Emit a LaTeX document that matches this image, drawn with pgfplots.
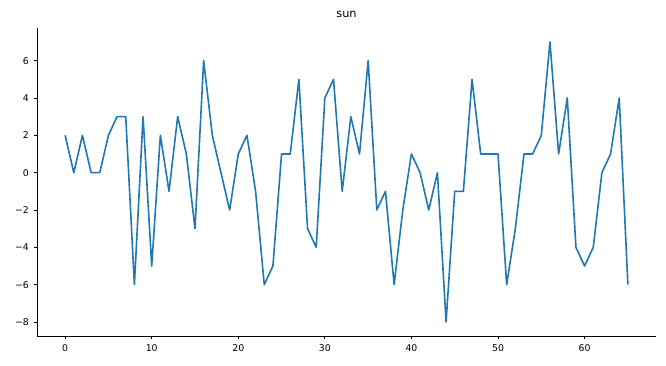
\documentclass[border=0pt]{standalone}
\usepackage{fontspec}
\setmainfont{DejaVu Sans}
\usepackage{pgfplots}
\pgfplotsset{compat=1.18}
\definecolor{mplblue}{HTML}{1F77B4}
\begin{document}
\begin{tikzpicture}[x=1pt,y=1pt]
\path[use as bounding box] (0,0) rectangle (499.5,274.5);
\begin{axis}[
  at={(27.75pt,22.5pt)}, anchor=south west,
  scale only axis, width=464.25pt, height=231pt,
  xmin=-3.25, xmax=68.25, ymin=-8.75, ymax=7.75,
  axis x line*=bottom, axis y line*=left,
  axis line style={line width=0.6pt, black},
  tick align=outside, tick style={black, line width=0.6pt},
  major tick length=2.6pt,
  xtick={0,10,...,60}, ytick={-8,-6,...,6},
  yticklabels={−8,−6,−4,−2,0,2,4,6},
  /pgf/number format/assume math mode=true,
  ticklabel style={font=\fontsize{7}{8}\selectfont},
  title={sun}, title style={font=\fontsize{8.5}{10}\selectfont, yshift=-2pt},
  clip=false,
]
\addplot[mplblue, line width=1.2pt, line join=round, line cap=butt, mark=none] coordinates {
(0,2)(1,0)(2,2)(3,0)(4,0)(5,2)(6,3)(7,3)(8,-6)(9,3)
(10,-5)(11,2)(12,-1)(13,3)(14,1)(15,-3)(16,6)(17,2)(18,0)(19,-2)
(20,1)(21,2)(22,-1)(23,-6)(24,-5)(25,1)(26,1)(27,5)(28,-3)(29,-4)
(30,4)(31,5)(32,-1)(33,3)(34,1)(35,6)(36,-2)(37,-1)(38,-6)(39,-2)
(40,1)(41,0)(42,-2)(43,0)(44,-8)(45,-1)(46,-1)(47,5)(48,1)(49,1)
(50,1)(51,-6)(52,-3)(53,1)(54,1)(55,2)(56,7)(57,1)(58,4)(59,-4)
(60,-5)(61,-4)(62,0)(63,1)(64,4)(65,-6)
};
\end{axis}
\end{tikzpicture}
\end{document}
